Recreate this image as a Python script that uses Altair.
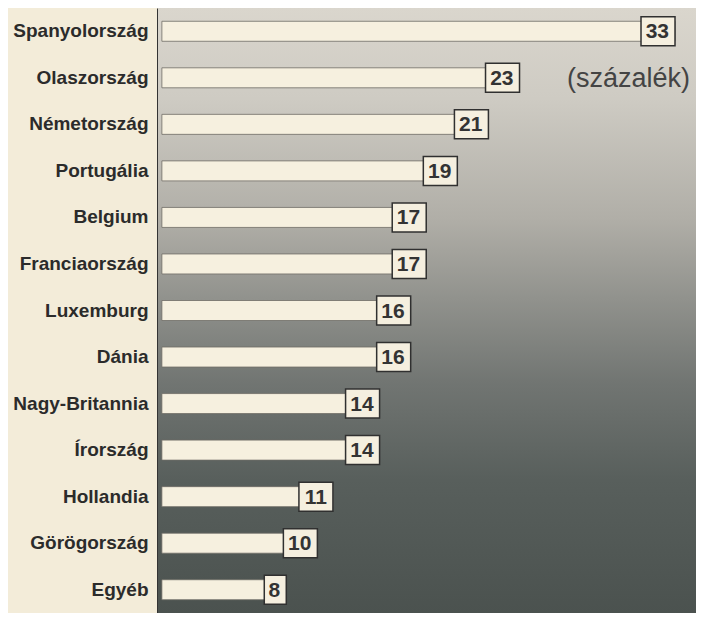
import altair as alt
import pandas as pd

countries = ["Spanyolország", "Olaszország", "Németország", "Portugália", "Belgium",
             "Franciaország", "Luxemburg", "Dánia", "Nagy-Britannia", "Írország",
             "Hollandia", "Görögország", "Egyéb"]
values = [33, 23, 21, 19, 17, 17, 16, 16, 14, 14, 11, 10, 8]
unit_label = "(százalék)"
unit_row = "Olaszország"

df = pd.DataFrame({"country": countries, "value": values})

FONT = "Liberation Sans"
W, H = 538, 605

yenc = alt.Y("country:N", sort=countries, title=None,
             scale=alt.Scale(paddingInner=0, paddingOuter=0))
xscale = alt.Scale(domain=[-0.25, 34.35], nice=False, zero=False)

grad = alt.Gradient(
    gradient="linear",
    stops=[
        alt.GradientStop(color="#dad6cd", offset=0),
        alt.GradientStop(color="#cecbc3", offset=0.15),
        alt.GradientStop(color="#b0aea7", offset=0.35),
        alt.GradientStop(color="#91928d", offset=0.48),
        alt.GradientStop(color="#717572", offset=0.62),
        alt.GradientStop(color="#585f5c", offset=0.78),
        alt.GradientStop(color="#4b524f", offset=1),
    ],
    x1=0, y1=0, x2=0, y2=1,
)

bg = alt.Chart(alt.Data(values=[{}])).mark_rect(fill=grad).encode(
    x=alt.value(0), x2=alt.value("width"), y=alt.value(0), y2=alt.value("height")
)

base = alt.Chart(df)

bars = base.mark_bar(size=20, fill="#f6f0df", stroke="#6e6c66", strokeWidth=0.8).encode(
    y=yenc,
    x=alt.X("value:Q", scale=xscale, axis=None),
    x2=alt.datum(0),
)

box2 = base.transform_filter("datum.value >= 10").mark_bar(
    size=29, xOffset=-34, fill="#f5efdf", stroke="#303030", strokeWidth=1.5
).encode(y=yenc, x=alt.X("value:Q", scale=xscale), x2="value:Q")

box1 = base.transform_filter("datum.value < 10").mark_bar(
    size=29, xOffset=-22, fill="#f5efdf", stroke="#303030", strokeWidth=1.5
).encode(y=yenc, x=alt.X("value:Q", scale=xscale), x2="value:Q")

txt = base.mark_text(align="right", baseline="middle", dx=-6, dy=1, fontSize=21,
                     fontWeight="bold", font=FONT, color="#333333").encode(
    y=yenc, x=alt.X("value:Q", scale=xscale), text="value:Q"
)

annot = alt.Chart(alt.Data(values=[{"country": unit_row, "label": unit_label}])).mark_text(
    align="right", baseline="middle", dx=-6, dy=1, fontSize=27, font=FONT, color="#444444"
).encode(y=yenc, x=alt.value("width"), text="label:N")

chart = alt.layer(bg, bars, box2, box1, txt, annot).properties(
    width=W, height=H, padding={"left": 0, "top": 0, "right": 0, "bottom": 0}
).configure(
    background="#f3ecd9"
).configure_view(
    stroke="#555555", strokeWidth=1
).configure_axisY(
    labelFont=FONT, labelFontSize=19, labelFontWeight="bold", labelColor="#2b2b2b",
    labelPadding=10, ticks=False, domain=True, domainColor="#333333", domainWidth=3,
    minExtent=150, maxExtent=150, labelLimit=200
)

chart.save("out.html", embed_options={"renderer": "svg", "actions": False})
